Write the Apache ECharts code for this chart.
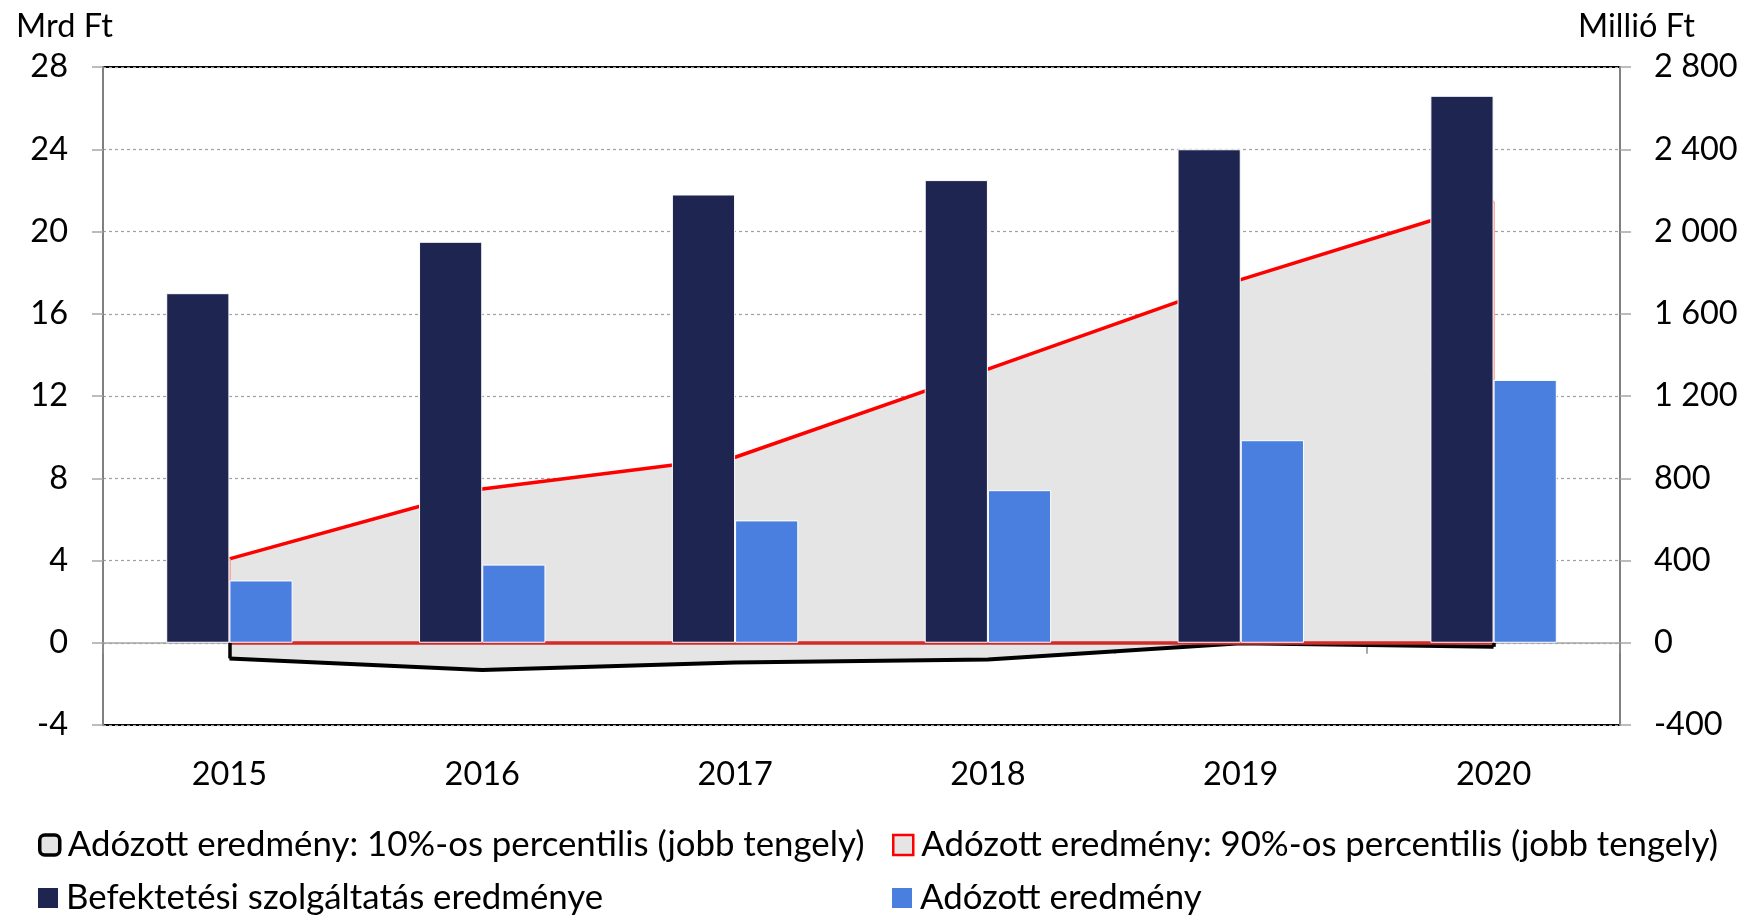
<!DOCTYPE html>
<html>
<head>
<meta charset="utf-8">
<script src="https://cdn.jsdelivr.net/npm/echarts@6/dist/echarts.min.js"></script>
<style>
  html, body { margin: 0; padding: 0; background: #fff; }
  #chart { width: 1744px; height: 918px; }
</style>
</head>
<body>
<div id="chart"></div>
<script>
  // data
  const years = ['2015', '2016', '2017', '2018', '2019', '2020'];
  const befektetesi = [17.0, 19.5, 21.8, 22.5, 24.0, 26.6];      // Mrd Ft, left axis
  const adozott = [3.03, 3.8, 5.95, 7.42, 9.85, 12.78];          // Mrd Ft, left axis
  const p10 = [-76, -132, -96, -82, -3, -20];                     // Millió Ft, right axis
  const p90 = [408, 748, 902, 1331, 1766, 2147];                  // Millió Ft, right axis

  const names = {
    p10: 'Adózott eredmény: 10%-os percentilis (jobb tengely)',
    p90: 'Adózott eredmény: 90%-os percentilis (jobb tengely)',
    bef: 'Befektetési szolgáltatás eredménye',
    adoz: 'Adózott eredmény'
  };

  const FONT = 'Lato';
  const navy = '#1f2551';
  const blue = '#4a7fe0';
  const fill = '#e5e5e5';

  const chart = echarts.init(document.getElementById('chart'));

  const legendText = { fontFamily: FONT, fontSize: 34.8, color: '#000', lineHeight: 36, padding: [0, 0, 0, 3] };
  const mkLegend = (name, left, top, icon, itemStyle) => ({
    left: left, top: top,
    itemWidth: 20, itemHeight: 20,
    textStyle: legendText,
    data: [{ name: name, icon: icon, itemStyle: itemStyle }],
    selectedMode: false
  });

  const last = years.length - 1;
  const tickFont = { fontFamily: FONT, fontSize: 32.5, color: '#000' };

  const option = {
    animation: false,
    textStyle: { fontFamily: FONT },
    title: [
      { text: 'Mrd Ft', left: 11, top: 5, textStyle: Object.assign({ fontWeight: 'normal' }, tickFont) },
      { text: 'Millió Ft', right: 44, top: 5, textStyle: Object.assign({ fontWeight: 'normal' }, tickFont) }
    ],
    legend: [
      mkLegend(names.p10, 33, 822, 'roundRect', { color: fill, borderColor: '#000', borderWidth: 3.5 }),
      mkLegend(names.p90, 887, 822, 'rect', { color: fill, borderColor: '#ff0000', borderWidth: 2.5 }),
      mkLegend(names.bef, 33, 875, 'rect', { color: navy, borderWidth: 0 }),
      mkLegend(names.adoz, 887, 875, 'rect', { color: blue, borderWidth: 0 })
    ],
    grid: {
      left: 103, right: 124, top: 67, bottom: 193,
      show: true, borderColor: '#000', borderWidth: 2, backgroundColor: 'transparent'
    },
    xAxis: {
      type: 'category',
      data: years,
      boundaryGap: true,
      axisLine: { onZero: true, lineStyle: { color: '#a6a6a6', width: 1.5 } },
      axisTick: { show: true, length: 11, lineStyle: { color: '#8c8c8c', width: 1.5 } },
      axisLabel: Object.assign({ margin: 33 }, tickFont),
      splitLine: { show: false }
    },
    yAxis: [
      {
        type: 'value', min: -4, max: 28, interval: 4,
        axisLine: { show: true, onZero: false, lineStyle: { color: '#808080', width: 2 } },
        axisTick: { show: true, length: 11, lineStyle: { color: '#a6a6a6', width: 1.5 } },
        axisLabel: Object.assign({ margin: 35 }, tickFont),
        splitLine: { show: true, lineStyle: { color: '#a0a0a0', width: 1.2, type: [3, 3] } }
      },
      {
        type: 'value', min: -400, max: 2800, interval: 400, position: 'right',
        axisLine: { show: true, onZero: false, lineStyle: { color: '#808080', width: 2 } },
        axisTick: { show: true, length: 11, lineStyle: { color: '#a6a6a6', width: 1.5 } },
        axisLabel: Object.assign({
          margin: 34,
          formatter: v => String(v).replace(/\B(?=(\d{3})+(?!\d))/g, ' ')
        }, tickFont),
        splitLine: { show: false }
      }
    ],
    series: [
      {
        name: names.p90,
        type: 'line',
        yAxisIndex: 1,
        data: p90,
        z: 1,
        symbol: 'none',
        lineStyle: { color: '#ff0000', width: 3.5 },
        itemStyle: { color: '#ff0000' },
        areaStyle: { color: fill, opacity: 1 },
        markLine: {
          silent: true, symbol: 'none', z: 2,
          label: { show: false },
          lineStyle: { color: '#d42a2a', width: 3.5, type: 'solid' },
          data: [
            [{ coord: [0, 0] }, { coord: [last, 0] }],
            [{ coord: [0, 0], lineStyle: { color: '#ff9090', width: 1.5 } }, { coord: [0, p90[0]] }],
            [{ coord: [last, 0], lineStyle: { color: '#ff9090', width: 1.5 } }, { coord: [last, p90[last]] }]
          ]
        }
      },
      {
        name: names.p10,
        type: 'line',
        yAxisIndex: 1,
        data: p10,
        z: 1,
        symbol: 'none',
        lineStyle: { color: '#000', width: 4 },
        itemStyle: { color: '#000' },
        areaStyle: { color: fill, opacity: 1 },
        markLine: {
          silent: true, symbol: 'none', z: 2,
          label: { show: false },
          lineStyle: { color: '#000', width: 3.5, type: 'solid' },
          data: [
            [{ coord: [0, 0] }, { coord: [0, p10[0]] }],
            [{ coord: [last, 0] }, { coord: [last, p10[last]] }]
          ]
        }
      },
      {
        name: names.bef,
        type: 'bar',
        yAxisIndex: 0,
        data: befektetesi,
        z: 3,
        barGap: '0%',
        barCategoryGap: '50%',
        itemStyle: { color: navy, borderColor: '#ffffff', borderWidth: 1 }
      },
      {
        name: names.adoz,
        type: 'bar',
        yAxisIndex: 0,
        data: adozott,
        z: 3,
        barGap: '0%',
        barCategoryGap: '50%',
        itemStyle: { color: blue, borderColor: '#ffffff', borderWidth: 1 }
      }
    ]
  };

  chart.setOption(option);
</script>
</body>
</html>
